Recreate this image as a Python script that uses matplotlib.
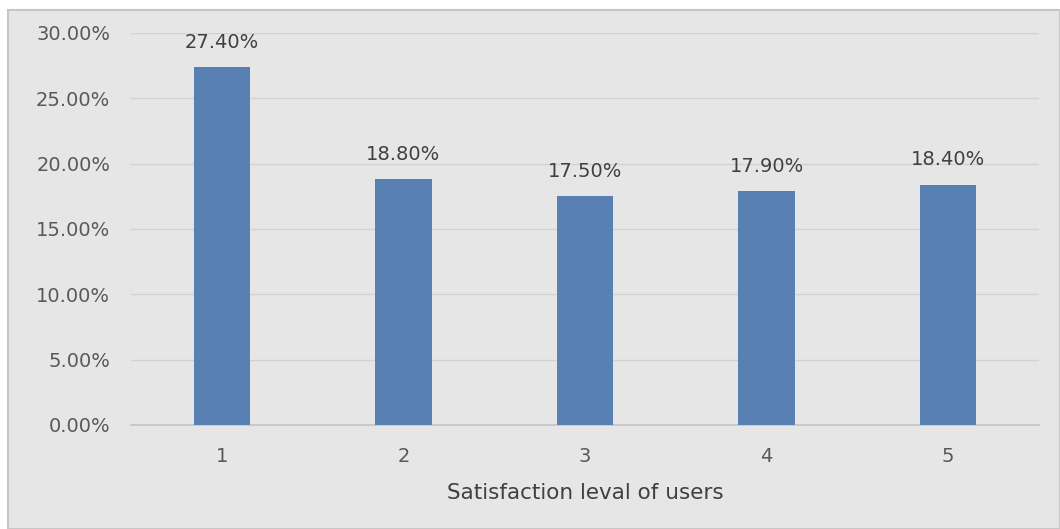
import matplotlib.pyplot as plt
from matplotlib.patches import Rectangle
from matplotlib.ticker import FuncFormatter

# satisfaction levels and share of users
levels = ['1', '2', '3', '4', '5']
shares = [0.274, 0.188, 0.175, 0.179, 0.184]
yticks = [0.0, 0.05, 0.10, 0.15, 0.20, 0.25, 0.30]

plt.rcParams['font.family'] = ['DejaVu Sans']

fig = plt.figure(figsize=(10.6, 5.29), dpi=100)
fig.patch.set_facecolor('white')
# grey chart area with thin border
fig.patches.append(Rectangle((8 / 1060, 0), 1 - 8 / 1060, 519 / 529,
                             transform=fig.transFigure, facecolor='#e6e6e6',
                             edgecolor='#c6c6c6', linewidth=1.5, zorder=-10))

ax = fig.add_axes([131 / 1060, 1 - 425 / 529, (1039 - 131) / 1060, (425 - 33) / 529])
ax.set_facecolor('none')

x = range(len(levels))
bars = ax.bar(x, shares, width=0.31, color='#5880b3', zorder=3)

for xi, v in zip(x, shares):
    ax.annotate('%.2f%%' % (v * 100), (xi, v), xytext=(0, 11), textcoords='offset points',
                ha='center', va='bottom', fontsize=14, color='#404040')

ax.set_xlim(-0.5, len(levels) - 0.5)
ax.set_ylim(0, 0.30)
ax.set_yticks(yticks)
ax.yaxis.set_major_formatter(FuncFormatter(lambda v, p: '%.2f%%' % (v * 100)))
ax.set_xticks(list(x))
ax.set_xticklabels(levels)

ax.grid(axis='y', color='#d2d2d2', linewidth=1.0, zorder=0)
for s in ['top', 'right', 'left']:
    ax.spines[s].set_visible(False)
ax.spines['bottom'].set_color('#c4c4c4')
ax.spines['bottom'].set_linewidth(1.2)

ax.tick_params(axis='both', length=0, labelsize=14, labelcolor='#595959')
ax.tick_params(axis='y', pad=15)
ax.tick_params(axis='x', pad=16)

ax.set_xlabel('Satisfaction leval of users', fontsize=15.5, color='#404040', labelpad=12)

fig.savefig('out.png', dpi=100)
